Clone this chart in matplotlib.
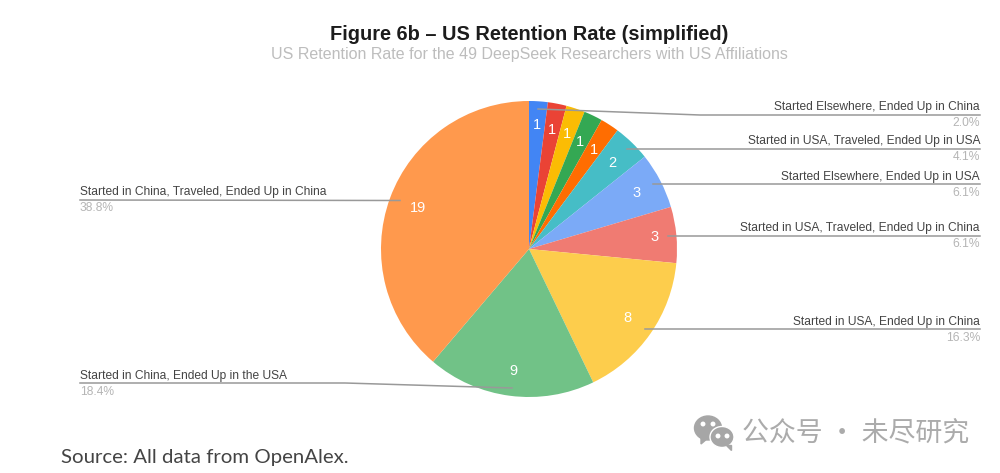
import matplotlib
matplotlib.use("Agg")
import matplotlib.pyplot as plt
from matplotlib.patches import Ellipse, Polygon
import math

plt.rcParams['font.family'] = ['Liberation Sans', 'DejaVu Sans']

# slices clockwise from 12 o'clock
counts = [1, 1, 1, 1, 1, 2, 3, 3, 8, 9, 19]
colors = ['#4285F4', '#EA4335', '#FBBC04', '#34A853', '#FF6D01', '#46BDC6',
          '#7BAAF7', '#F07B72', '#FDCD4C', '#71C287', '#FF994D']
count_radius = [0.84, 0.82, 0.82, 0.80, 0.80, 0.81, 0.82, 0.85, 0.81, 0.83, 0.80]

right_labels = ['Started Elsewhere, Ended Up in China',
                'Started in USA, Traveled, Ended Up in USA',
                'Started Elsewhere, Ended Up in USA',
                'Started in USA, Traveled, Ended Up in China',
                'Started in USA, Ended Up in China']
right_pcts = ['2.0%', '4.1%', '6.1%', '6.1%', '16.3%']
left_labels = ['Started in China, Traveled, Ended Up in China',
               'Started in China, Ended Up in the USA']
left_pcts = ['38.8%', '18.4%']

H = 473
fig = plt.figure(figsize=(10, 4.73), dpi=100)
ax = fig.add_axes([0, 0, 1, 1])

cx, cy, r = 529, H - 249, 148
wedges, _ = ax.pie(counts, colors=colors, startangle=90, counterclock=False,
                   center=(cx, cy), radius=r)
ax.set_xlim(0, 1000)
ax.set_ylim(0, H)
ax.set_aspect('equal')
ax.axis('off')

# numbers inside slices
for w, n, d in zip(wedges, counts, count_radius):
    a = math.radians((w.theta1 + w.theta2) / 2)
    ax.text(cx + d * r * math.cos(a), cy + d * r * math.sin(a), str(n),
            color='white', fontsize=10.5, ha='center', va='center')

ax.text(529.5, H - 35, 'Figure 6b – US Retention Rate (simplified)', fontsize=14.4,
        fontweight='bold', color='#1c1c1c', ha='center', va='center')
ax.text(529, H - 55, 'US Retention Rate for the 49 DeepSeek Researchers with US Affiliations',
        fontsize=11.5, color='#bdbdbd', ha='center', va='center')

# leader lines, in picture pixels
line_color = '#999999'
right_lines = [([538, 565, 700, 980], [109, 110, 115, 115]),
               ([627, 980], [149, 149]),
               ([653, 980], [184, 184]),
               ([668, 980], [236, 236]),
               ([645, 980], [329, 329])]
for xs, ys in right_lines:
    ax.plot(xs, [H - y for y in ys], color=line_color, lw=1.1, zorder=5)
ax.plot([80, 400], [H - 200, H - 200.5], color=line_color, lw=1.1, zorder=5)
ax.plot([80, 345, 512], [H - 383, H - 383, H - 388], color=line_color, lw=1.1, zorder=5)

right_y = [107, 141, 177, 228, 322]
right_pct_y = [123, 157, 193, 244, 338]
for lab, pct, y, py in zip(right_labels, right_pcts, right_y, right_pct_y):
    ax.text(980, H - y, lab, fontsize=8.65, color='#444444', ha='right', va='center')
    ax.text(980, H - py, pct, fontsize=8.65, color='#b5b5b5', ha='right', va='center')

left_y = [192, 376]
left_pct_y = [208, 392]
for lab, pct, y, py in zip(left_labels, left_pcts, left_y, left_pct_y):
    ax.text(80, H - y, lab, fontsize=8.65, color='#444444', ha='left', va='center')
    ax.text(80, H - py, pct, fontsize=8.65, color='#b5b5b5', ha='left', va='center')

ax.text(61, H - 458, 'Source: All data from OpenAlex.', family='Lato', fontsize=14.7,
        color='#444444', ha='left', va='center')

# watermark icon
ax.add_patch(Ellipse((708, H - 428), 27, 24, color='#a6a6a6', zorder=6))
ax.add_patch(Polygon([(701, H - 437), (708, H - 438), (701, H - 444)], color='#a6a6a6', zorder=6))
ax.add_patch(Ellipse((722, H - 437), 24, 21, color='#a6a6a6', ec='white', lw=1, zorder=7))
ax.add_patch(Polygon([(726, H - 445), (731, H - 445), (731, H - 450)], color='#a6a6a6', zorder=7))
for x, y, c, z in [(703, 424, 'white', 8), (713, 424, 'white', 8), (718, 436, 'white', 8), (727, 436, 'white', 8)]:
    ax.add_patch(Ellipse((x, H - y), 3.5, 3.5, color=c, zorder=z))
ax.text(742, H - 434, '公众号 · 未尽研究', family=['Noto Sans CJK SC', 'DejaVu Sans'],
        fontsize=19.4, color='#ababab', ha='left', va='center')

plt.savefig('out.png', dpi=100)
